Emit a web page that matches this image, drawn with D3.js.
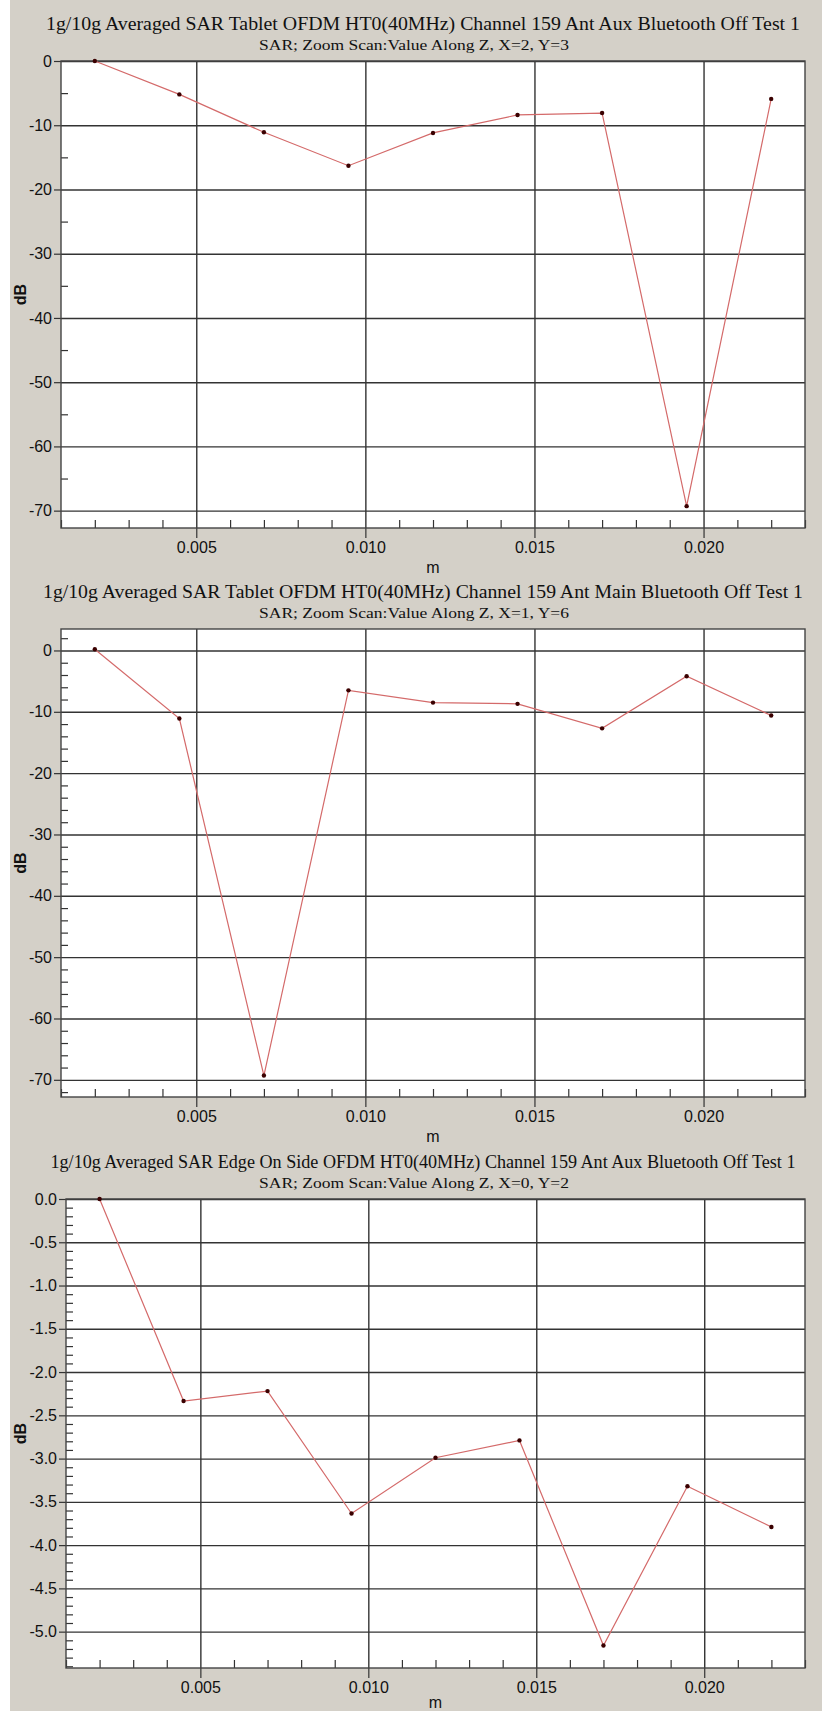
<!DOCTYPE html>
<html>
<head>
<meta charset="utf-8">
<script src="https://cdn.jsdelivr.net/npm/d3@7"></script>
<style>
  body { margin: 0; background: #fff; }
  .tick text { font-family: "Liberation Sans", Arial, sans-serif; font-size: 16px; fill: #111; }
  .title { font-family: "Liberation Serif", "Times New Roman", serif; fill: #111; }
  .axis-label { font-family: "Liberation Sans", Arial, sans-serif; font-size: 16px; fill: #111; }
</style>
</head>
<body>
<svg width="822" height="1711"></svg>
<script>
// sample positions along Z (m)
const zValues = [0.002, 0.0045, 0.007, 0.0095, 0.012, 0.0145, 0.017, 0.0195, 0.022];
const xMajorTicks = [0.005, 0.010, 0.015, 0.020];

const titles = [
  '1g/10g Averaged SAR Tablet OFDM HT0(40MHz) Channel 159 Ant Aux Bluetooth Off Test 1',
  '1g/10g Averaged SAR Tablet OFDM HT0(40MHz) Channel 159 Ant Main Bluetooth Off Test 1',
  '1g/10g Averaged SAR Edge On Side OFDM HT0(40MHz) Channel 159 Ant Aux Bluetooth Off Test 1'
];
const subtitles = [
  'SAR; Zoom Scan:Value Along Z, X=2, Y=3',
  'SAR; Zoom Scan:Value Along Z, X=1, Y=6',
  'SAR; Zoom Scan:Value Along Z, X=0, Y=2'
];

const sar1 = [0, -5.2, -11.1, -16.3, -11.2, -8.4, -8.1, -69.3, -5.9];
const sar2 = [0.2, -11.1, -69.3, -6.5, -8.5, -8.7, -12.7, -4.2, -10.6];
const sar3 = [0, -2.335, -2.22, -3.635, -2.99, -2.79, -5.16, -3.32, -3.79];

const yTicks1 = [0, -10, -20, -30, -40, -50, -60, -70];
const yTicks2 = [0, -10, -20, -30, -40, -50, -60, -70];
const yTicks3 = [0, -0.5, -1.0, -1.5, -2.0, -2.5, -3.0, -3.5, -4.0, -4.5, -5.0];

const svg = d3.select('svg');
const width = +svg.attr('width');
const height = +svg.attr('height');

// plain hyphen for negatives, like the original
const locale = d3.formatLocale({ decimal: '.', thousands: ',', grouping: [3], currency: ['', ''], minus: '-' });

svg.append('rect').attr('x', 10).attr('y', 0)
  .attr('width', width - 10).attr('height', height).attr('fill', '#d4d0c8');

const panels = [
  { title: titles[0], sub: subtitles[0], data: sar1, yTicks: yTicks1,
    yDomain: [-72.7, 0], minorStep: 5, fmt: locale.format('d'),
    top: 61, bottom: 528, left: 61, titleW: 754 },
  { title: titles[1], sub: subtitles[1], data: sar2, yTicks: yTicks2,
    yDomain: [-72.8, 3.5], minorStep: 2, fmt: locale.format('d'),
    top: 629, bottom: 1097, left: 61, titleW: 760 },
  { title: titles[2], sub: subtitles[2], data: sar3, yTicks: yTicks3,
    yDomain: [-5.42, 0], minorStep: 0.1, fmt: locale.format('.1f'),
    top: 1199, bottom: 1668, left: 66, titleW: 745 }
];

const right = 805;

const minorRange = (lo, hi, step, majors) => {
  const out = [];
  const n0 = Math.ceil(lo / step - 1e-9), n1 = Math.floor(hi / step + 1e-9);
  for (let i = n0; i <= n1; i++) {
    const v = +(i * step).toFixed(6);
    if (!majors.some(m => Math.abs(m - v) < step / 10)) out.push(v);
  }
  return out;
};

const render = p => {
  const innerH = p.bottom - p.top;
  const innerW = right - p.left;
  const xScale = d3.scaleLinear().domain([0.001, 0.023]).range([p.left, right]);
  const yScale = d3.scaleLinear().domain(p.yDomain).range([p.bottom, p.top]);
  const g = svg.append('g');

  g.append('text').attr('class', 'title')
    .attr('x', 423).attr('y', p.top - 31)
    .attr('text-anchor', 'middle').attr('font-size', 18)
    .attr('textLength', p.titleW).attr('lengthAdjust', 'spacingAndGlyphs')
    .text(p.title);
  g.append('text').attr('class', 'title')
    .attr('x', 414).attr('y', p.top - 11)
    .attr('text-anchor', 'middle').attr('font-size', 15)
    .attr('textLength', 310).attr('lengthAdjust', 'spacingAndGlyphs')
    .text(p.sub);

  g.append('rect').attr('x', p.left).attr('y', p.top)
    .attr('width', innerW).attr('height', innerH).attr('fill', '#fff');

  // grid lines
  const gridX = g.append('g').attr('transform', `translate(0,${p.bottom})`)
    .call(d3.axisBottom(xScale).tickValues(xMajorTicks).tickSize(-innerH).tickFormat(''));
  const gridY = g.append('g').attr('transform', `translate(${p.left},0)`)
    .call(d3.axisLeft(yScale).tickValues(p.yTicks).tickSize(-innerW).tickFormat(''));
  [gridX, gridY].forEach(a => {
    a.select('.domain').remove();
    a.selectAll('line').attr('stroke', '#333').attr('stroke-width', 1.4);
  });

  // outer major ticks with labels
  const xAxisG = g.append('g').attr('transform', `translate(0,${p.bottom})`)
    .call(d3.axisBottom(xScale).tickValues(xMajorTicks).tickSize(10).tickPadding(4)
      .tickFormat(locale.format('.3f')));
  const yAxisG = g.append('g').attr('transform', `translate(${p.left},0)`)
    .call(d3.axisLeft(yScale).tickValues(p.yTicks).tickSize(7).tickPadding(2)
      .tickFormat(p.fmt));

  // inner minor ticks
  const xMinor = minorRange(0.001, 0.023, 0.001, xMajorTicks);
  const yMinor = minorRange(p.yDomain[0], p.yDomain[1], p.minorStep, p.yTicks);
  const xMinorG = g.append('g').attr('transform', `translate(0,${p.bottom})`)
    .call(d3.axisBottom(xScale).tickValues(xMinor).tickSize(-8).tickFormat(''));
  const yMinorG = g.append('g').attr('transform', `translate(${p.left},0)`)
    .call(d3.axisLeft(yScale).tickValues(yMinor).tickSize(-7).tickFormat(''));

  [xAxisG, yAxisG, xMinorG, yMinorG].forEach(a => {
    a.select('.domain').remove();
    a.selectAll('line').attr('stroke', '#333').attr('stroke-width', 1.2);
  });

  g.append('rect').attr('x', p.left).attr('y', p.top)
    .attr('width', innerW).attr('height', innerH)
    .attr('fill', 'none').attr('stroke', '#444').attr('stroke-width', 1.4);

  g.append('text').attr('class', 'axis-label')
    .attr('transform', `translate(26,${(p.top + p.bottom) / 2}) rotate(-90)`)
    .attr('text-anchor', 'middle').attr('font-weight', 'bold')
    .text('dB');
  g.append('text').attr('class', 'axis-label')
    .attr('x', (p.left + right) / 2).attr('y', Math.min(p.bottom + 45, height - 3))
    .attr('text-anchor', 'middle')
    .text('m');

  const line = d3.line()
    .x((d, i) => xScale(zValues[i]))
    .y(d => yScale(d));
  g.append('path').datum(p.data)
    .attr('d', line).attr('fill', 'none')
    .attr('stroke', '#d46a6a').attr('stroke-width', 1.2);

  g.selectAll('circle.pt').data(p.data).enter().append('circle')
    .attr('class', 'pt')
    .attr('cx', (d, i) => xScale(zValues[i]))
    .attr('cy', d => yScale(d))
    .attr('r', 2.2).attr('fill', '#3a0000');
};

panels.forEach(render);
</script>
</body>
</html>
